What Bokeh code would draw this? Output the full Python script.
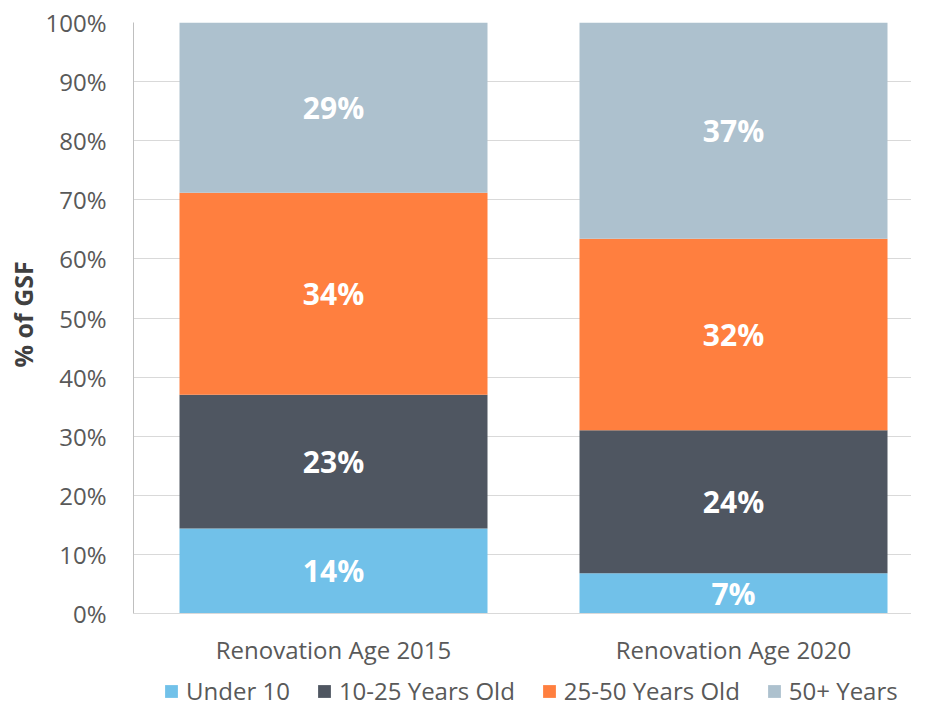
import numpy as np
from bokeh.plotting import figure
from bokeh.models import (ColumnDataSource, Range1d, FixedTicker, Title,
                          PrintfTickFormatter, Legend, LegendItem)
from bokeh.core.properties import value
from bokeh.embed import file_html
from bokeh.resources import INLINE

categories = ["Renovation Age 2015", "Renovation Age 2020"]
series = ["Under 10", "10-25 Years Old", "25-50 Years Old", "50+ Years"]
under_10 = [14.4, 6.8]
yrs_10_25 = [22.6, 24.2]
yrs_25_50 = [34.2, 32.4]
yrs_50_plus = [28.8, 36.6]
y_ticks = [0, 10, 20, 30, 40, 50, 60, 70, 80, 90, 100]
y_label = "% of GSF"
colors = ["#71C1E9", "#4F5661", "#FF7F3F", "#ADC1CE"]

FONT = "Open Sans"
TXT = "#595959"

xpos = [i + 0.5 for i in range(len(categories))]
data = {"x": xpos, "s0": under_10, "s1": yrs_10_25, "s2": yrs_25_50, "s3": yrs_50_plus}
source = ColumnDataSource(data)

p = figure(width=911, height=707, output_backend="svg", toolbar_location=None,
           x_range=Range1d(0, 1.945), y_range=Range1d(-15.9, 100),
           min_border_left=120, min_border_top=22, min_border_right=0, min_border_bottom=0)
p.outline_line_color = None

renderers = p.vbar_stack(["s0", "s1", "s2", "s3"], x="x", width=0.77, source=source,
                         color=colors, line_color=None)

# labels
vals = np.array([under_10, yrs_10_25, yrs_25_50, yrs_50_plus])
cum = np.cumsum(vals, axis=0)
mids = cum - vals / 2
lx, ly, lt = [], [], []
for s in range(vals.shape[0]):
    for c in range(vals.shape[1]):
        lx.append(xpos[c]); ly.append(mids[s, c]); lt.append(f"{round(vals[s, c]):d}%")
p.text(x=lx, y=ly, text=lt, text_align="center", text_baseline="middle",
       text_color="white", text_font=value(FONT), text_font_style="bold",
       text_font_size="30px")

# axes
p.xaxis.fixed_location = 0
p.xaxis.ticker = FixedTicker(ticks=xpos)
p.xaxis.major_label_overrides = {x: c for x, c in zip(xpos, categories)}
p.xaxis.major_tick_line_color = None
p.xaxis.minor_tick_line_color = None
p.xaxis.axis_line_color = "#D9D9D9"
p.xaxis.major_label_text_font = FONT
p.xaxis.major_label_text_font_size = "24px"
p.xaxis.major_label_text_color = TXT
p.xaxis.major_label_standoff = 13

p.yaxis.ticker = FixedTicker(ticks=y_ticks)
p.yaxis.bounds = (0, 100)
p.yaxis.formatter = PrintfTickFormatter(format="%d%%")
p.yaxis.major_tick_line_color = None
p.yaxis.minor_tick_line_color = None
p.yaxis.axis_line_color = "#BFBFBF"
p.yaxis.major_label_text_font = FONT
p.yaxis.major_label_text_font_size = "24px"
p.yaxis.major_label_text_color = TXT
p.yaxis.major_label_standoff = 21

ytitle = Title(text=y_label, align="left", offset=340, standoff=6,
               text_font=FONT, text_font_size="25px", text_font_style="bold",
               text_color="#404040")
p.add_layout(ytitle, "left")

p.xgrid.grid_line_color = None
p.ygrid.grid_line_color = "#D9D9D9"
p.ygrid.ticker = FixedTicker(ticks=y_ticks)

legend = Legend(items=[LegendItem(label=s, renderers=[r]) for s, r in zip(series, renderers)],
                orientation="horizontal", location=(30, 0),
                label_text_font=FONT, label_text_font_size="24px", label_text_color=TXT,
                glyph_width=16, glyph_height=16, label_standoff=7, spacing=26,
                padding=0, margin=0, border_line_color=None, background_fill_alpha=0,
                label_height=20)
p.add_layout(legend)

open("out.html", "w").write(file_html(p, INLINE))
